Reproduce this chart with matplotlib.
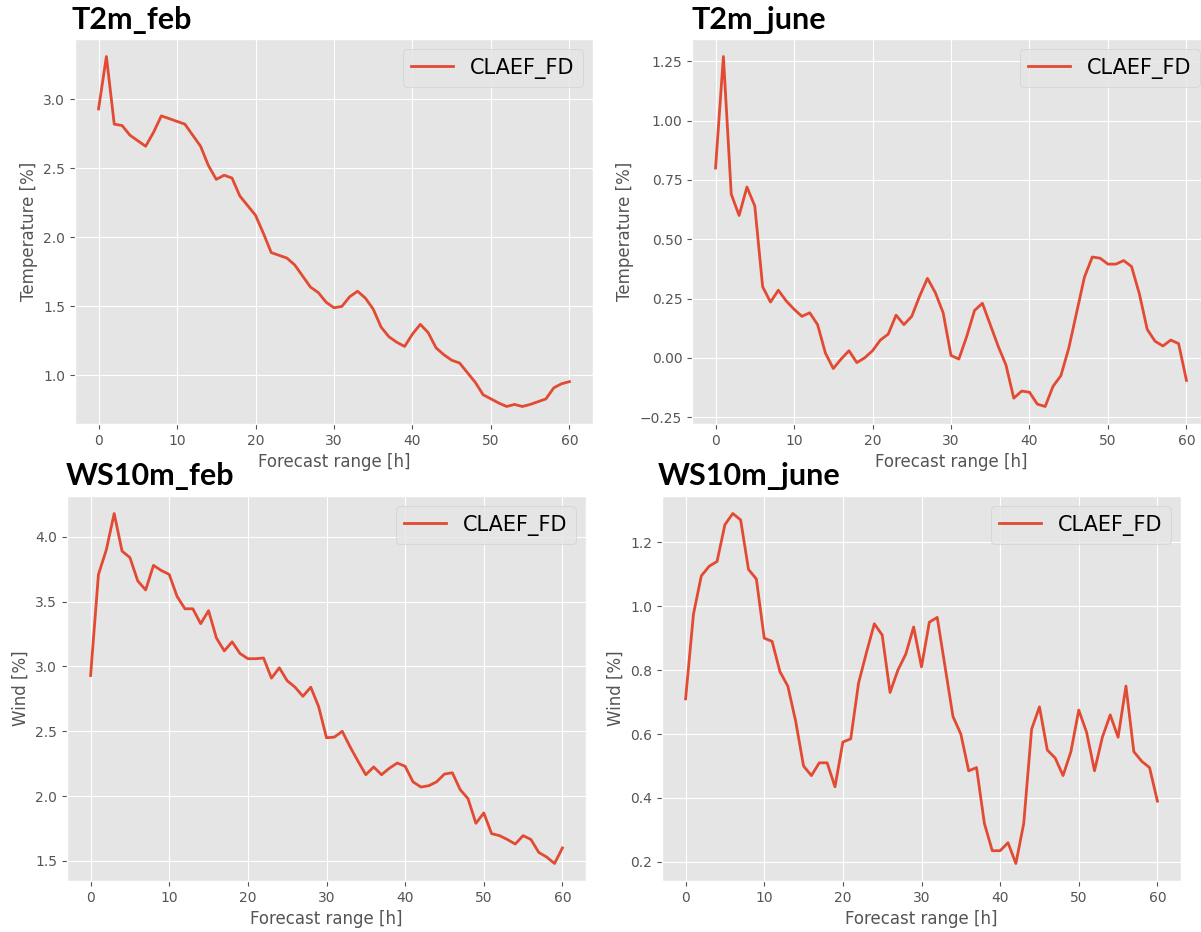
"""Four-panel CLAEF_FD forecast-range plots (T2m / WS10m, feb / june)."""

import matplotlib
matplotlib.use("Agg")
import matplotlib.pyplot as plt
from matplotlib.ticker import MultipleLocator

hours = list(range(61))

t2m_feb = [
    2.93, 3.31, 2.82, 2.81, 2.74, 2.70, 2.66, 2.76, 2.88, 2.86,
    2.84, 2.82, 2.74, 2.66, 2.52, 2.42, 2.45, 2.43, 2.30, 2.23,
    2.16, 2.03, 1.89, 1.87, 1.85, 1.80, 1.72, 1.64, 1.60, 1.53,
    1.49, 1.50, 1.57, 1.61, 1.56, 1.48, 1.35, 1.28, 1.24, 1.21,
    1.30, 1.37, 1.31, 1.20, 1.15, 1.11, 1.09, 1.02, 0.95, 0.86,
    0.83, 0.80, 0.775, 0.79, 0.775, 0.79, 0.81, 0.83, 0.91, 0.94,
    0.955,
]

t2m_june = [
    0.80, 1.27, 0.69, 0.60, 0.72, 0.64, 0.30, 0.235, 0.285, 0.24,
    0.205, 0.175, 0.19, 0.14, 0.02, -0.045, -0.005, 0.03, -0.02, 0.0,
    0.03, 0.075, 0.10, 0.18, 0.14, 0.175, 0.26, 0.335, 0.275, 0.19,
    0.01, -0.005, 0.09, 0.20, 0.23, 0.14, 0.05, -0.03, -0.17, -0.14,
    -0.145, -0.195, -0.205, -0.12, -0.075, 0.04, 0.19, 0.34, 0.425, 0.42,
    0.395, 0.395, 0.41, 0.385, 0.27, 0.12, 0.07, 0.05, 0.075, 0.06,
    -0.095,
]

ws10m_feb = [
    2.93, 3.71, 3.90, 4.18, 3.89, 3.84, 3.66, 3.59, 3.78, 3.74,
    3.71, 3.54, 3.445, 3.445, 3.33, 3.43, 3.22, 3.12, 3.19, 3.10,
    3.06, 3.06, 3.065, 2.91, 2.99, 2.89, 2.84, 2.77, 2.84, 2.69,
    2.45, 2.455, 2.50, 2.38, 2.27, 2.165, 2.225, 2.165, 2.215, 2.255,
    2.23, 2.11, 2.07, 2.08, 2.11, 2.17, 2.18, 2.05, 1.98, 1.79,
    1.87, 1.71, 1.695, 1.665, 1.63, 1.695, 1.665, 1.565, 1.53, 1.48,
    1.60,
]

ws10m_june = [
    0.71, 0.975, 1.095, 1.125, 1.14, 1.255, 1.29, 1.27, 1.115, 1.085,
    0.90, 0.89, 0.795, 0.75, 0.64, 0.50, 0.47, 0.51, 0.51, 0.435,
    0.575, 0.585, 0.76, 0.855, 0.945, 0.91, 0.73, 0.80, 0.85, 0.935,
    0.81, 0.95, 0.965, 0.81, 0.655, 0.60, 0.485, 0.495, 0.32, 0.235,
    0.235, 0.26, 0.195, 0.32, 0.615, 0.685, 0.55, 0.525, 0.47, 0.545,
    0.675, 0.605, 0.485, 0.59, 0.66, 0.59, 0.75, 0.545, 0.515, 0.495,
    0.39,
]

titles = ["T2m_feb", "T2m_june", "WS10m_feb", "WS10m_june"]
ylabels = ["Temperature [%]", "Temperature [%]", "Wind [%]", "Wind [%]"]
ysteps = [0.5, 0.25, 0.5, 0.2]
series = [t2m_feb, t2m_june, ws10m_feb, ws10m_june]

plt.style.use("ggplot")

W, H = 1201, 932
fig = plt.figure(figsize=(W / 100, H / 100), dpi=100)

# axes boxes in pixels: left, top, width, height
boxes = [(75, 39, 518, 385), (692, 39, 518, 385),
         (67, 496, 519, 385), (662, 496, 519, 385)]
title_pos = [(72, 29), (691, 29), (66, 485), (658, 485)]

for vals, title, ylab, step, (l, t, w, h), (tx, ty) in zip(
        series, titles, ylabels, ysteps, boxes, title_pos):
    ax = fig.add_axes([l / W, 1 - (t + h) / H, w / W, h / H])
    ax.plot(hours, vals, label="CLAEF_FD", linewidth=2)
    ax.yaxis.set_major_locator(MultipleLocator(step))
    ax.set_xlabel("Forecast range [h]", fontsize=12)
    ax.set_ylabel(ylab, fontsize=12)
    ax.tick_params(labelsize=10)
    ax.legend(loc="upper right", fontsize=15)
    fig.text(tx / W, 1 - ty / H, title, fontsize=22, fontweight="bold",
             family="Lato", color="black", ha="left", va="baseline")

fig.savefig("out.png", dpi=100)
